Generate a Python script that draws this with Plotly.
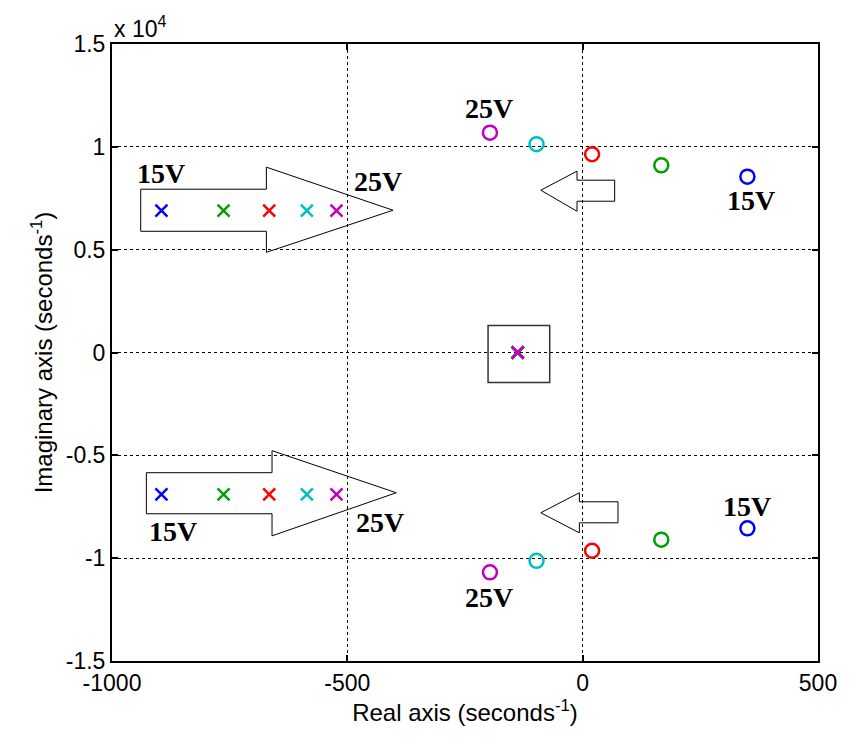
import plotly.graph_objects as go

# ---- data ----
colors = ["#0000FF", "#00A000", "#FF0000", "#00BFBF", "#BF00BF"]
labels = ["15V", "17.5V", "20V", "22.5V", "25V"]
pole_re = [-895, -763, -666, -586, -523]
pole_im = [6900, 6900, 6900, 6900, 6900]
real_pole = [-138, -138, -138, -138, -138]
zero_re = [350, 167, 20, -98, -197]
zero_im = [8550, 9100, 9640, 10130, 10690]

xticks = [-1000, -500, 0, 500]
yticks = [-15000, -10000, -5000, 0, 5000, 10000, 15000]
yticktext = ["-1.5", "-1", "-0.5", "0", "0.5", "1", "1.5"]

SANS = "Liberation Sans, Arial, sans-serif"

fig = go.Figure()

for i in range(len(labels)):
    fig.add_trace(go.Scatter(
        x=[pole_re[i], pole_re[i], real_pole[i]],
        y=[pole_im[i], -pole_im[i], 0],
        mode="markers", name=labels[i] + " poles",
        marker=dict(symbol="x-thin", size=12, color=colors[i],
                    line=dict(width=2.5, color=colors[i])),
        showlegend=False))
    fig.add_trace(go.Scatter(
        x=[zero_re[i], zero_re[i]],
        y=[zero_im[i], -zero_im[i]],
        mode="markers", name=labels[i] + " zeros",
        marker=dict(symbol="circle-open", size=14, color=colors[i],
                    line=dict(width=2.5, color=colors[i])),
        showlegend=False))

shape_line = dict(color="black", width=1)

def poly(pts):
    return "M " + " L ".join(f"{a},{b}" for a, b in pts) + " Z"

# big right-pointing arrows
fig.add_shape(type="path", xref="x", yref="y", line=shape_line,
              path=poly([(-939, 7940), (-672, 7940), (-672, 9011), (-403, 6917),
                         (-672, 4871), (-672, 5894), (-939, 5894)]))
fig.add_shape(type="path", xref="x", yref="y", line=shape_line,
              path=poly([(-927, -5845), (-660, -5845), (-660, -4773), (-396, -6819),
                         (-660, -8914), (-660, -7842), (-927, -7842)]))
# small left-pointing arrows
fig.add_shape(type="path", xref="x", yref="y", line=shape_line,
              path=poly([(68, 8378), (-12, 8378), (-12, 8816), (-89, 7891),
                         (-12, 6868), (-12, 7355), (68, 7355)]))
fig.add_shape(type="path", xref="x", yref="y", line=shape_line,
              path=poly([(75, -7258), (-7, -7258), (-7, -6819), (-89, -7793),
                         (-7, -8768), (-7, -8281), (75, -8281)]))
# box around real poles
fig.add_shape(type="rect", xref="x", yref="y", x0=-201, x1=-70, y0=-1461, y1=1315,
              line=dict(color="#333333", width=1.5))

lab_font = dict(family="Liberation Serif, Times New Roman, serif", size=28, color="black")
for (lx, ly, t) in [(-896, 8719, "15V"), (-434, 8329, "25V"), (-199, 11885, "25V"),
                    (357, 7404, "15V"), (-870, -8719, "15V"), (-430, -8281, "25V"),
                    (350, -7501, "15V"), (-199, -11934, "25V")]:
    fig.add_annotation(x=lx, y=ly, text=f"<b>{t}</b>", showarrow=False, font=lab_font)

fig.add_annotation(xref="paper", yref="paper", x=0, y=1, xanchor="left", yanchor="bottom",
                   text="x 10<sup>4</sup>", showarrow=False, yshift=0,
                   font=dict(family=SANS, size=23, color="black"))

axis_common = dict(showline=True, mirror="ticks", linecolor="black", linewidth=2,
                   ticks="inside", ticklen=6, tickwidth=1.5, tickcolor="black",
                   showgrid=True, gridcolor="black", griddash="dot", gridwidth=1,
                   zeroline=False,
                   tickfont=dict(family=SANS, size=23, color="black"))

fig.update_xaxes(range=[-1000, 500], tickvals=xticks, ticktext=[str(v) for v in xticks],
                 title=dict(text="Real axis (seconds<sup>-1</sup>)", standoff=10,
                            font=dict(family=SANS, size=24, color="black")),
                 **axis_common)
fig.update_yaxes(range=[-15000, 15000], tickvals=yticks, ticktext=yticktext,
                 title=dict(text="Imaginary axis (seconds<sup>-1</sup>)", standoff=6,
                            font=dict(family=SANS, size=24, color="black")),
                 **axis_common)

fig.update_layout(width=841, height=730, plot_bgcolor="white", paper_bgcolor="white",
                  margin=dict(l=104, r=23, t=36, b=77), showlegend=False)

fig.write_html("out.html")
